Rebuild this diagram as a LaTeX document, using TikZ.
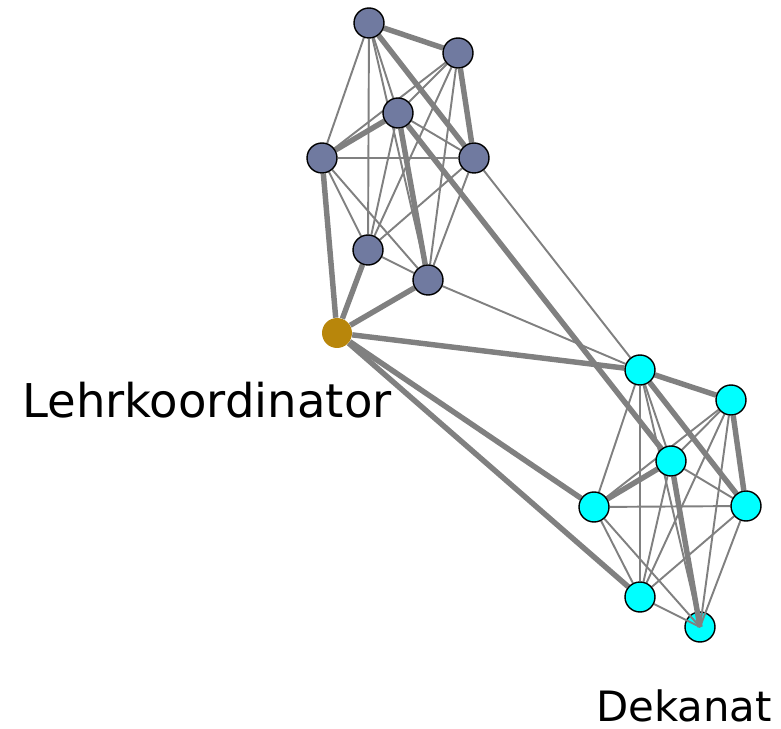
\documentclass[tikz,border=0pt]{standalone}
\usepackage{fontspec}
\setmainfont{DejaVu Sans}
\pgfdeclarelayer{bottom}
\pgfdeclarelayer{background}
\pgfsetlayers{bottom,background,main}
\definecolor{slate}{RGB}{112,122,160}
\definecolor{aqua}{RGB}{0,255,255}
\definecolor{gold}{RGB}{184,134,11}
\definecolor{edgegray}{RGB}{128,128,128}

\begin{document}
\begin{tikzpicture}[x=0.02cm,y=-0.02cm,
  every node/.style={circle, minimum size=0.6cm, inner sep=0pt},
  member/.style={draw=black, line width=0.8pt, fill=slate},
  office/.style={draw=black, line width=0.8pt, fill=aqua},
  coord/.style={fill=gold},
  tie/.style={draw=edgegray, line width=1.1pt},
  strongtie/.style={draw=edgegray, line width=3.1pt},
  caption/.style={shape=rectangle, minimum size=0pt, anchor=base}]
\useasboundingbox (0,0) rectangle (781,729);
% first group
\node[member] (a1) at (369,23) {};
\node[member] (a2) at (458,53) {};
\node[member] (a3) at (398,113) {};
\node[member] (a4) at (322,158) {};
\node[member] (a5) at (474,158) {};
\node[member] (a6) at (368,250) {};
\node[member] (a7) at (428,280) {};
\node[coord] (lk) at (337,333) {};
% second group
\node[office] (c1) at (640,370) {};
\node[office] (c2) at (731,400) {};
\node[office] (c3) at (671,461) {};
\node[office] (c4) at (594,507) {};
\node[office] (c5) at (746,506) {};
\node[office] (c6) at (640,597) {};
\begin{pgfonlayer}{bottom}
\node[office] (dk) at (700,627) {};
\end{pgfonlayer}
\node[caption, font=\fontsize{26.5}{30}\selectfont] (lklabel) at (207,418) {Lehrkoordinator};
\node[caption, font=\fontsize{23.8}{28}\selectfont] (dklabel) at (684,721) {Dekanat};
\begin{pgfonlayer}{background}
\foreach \u/\v in {a1/a3,a1/a4,a1/a6,a1/a7,a2/a3,a2/a4,a2/a6,a2/a7,a3/a5,a3/a6,
  a4/a5,a4/a6,a4/a7,a5/a6,a5/a7,a6/a7,a5/c1,a7/c1,
  c1/c3,c1/c4,c1/c6,c2/c3,c2/c4,c2/c6,c3/c5,c3/c6,c4/c5,c4/c6,c5/c6}
  \draw[tie] (\u) -- (\v);
\foreach \u in {c1,c2,c4,c5,c6}
  \draw[tie] (\u) -- (dk.center);
\foreach \u/\v in {a1/a2,a1/a5,a2/a5,a3/a4,a3/a7,a3/c3,
  lk/a4,lk/a6,lk/a7,lk/c1,lk/c4,lk/c6,c1/c2,c1/c5,c2/c5,c3/c4}
  \draw[strongtie] (\u) -- (\v);
\draw[strongtie] (c3) -- (dk.center);
\end{pgfonlayer}
\end{tikzpicture}
\end{document}
